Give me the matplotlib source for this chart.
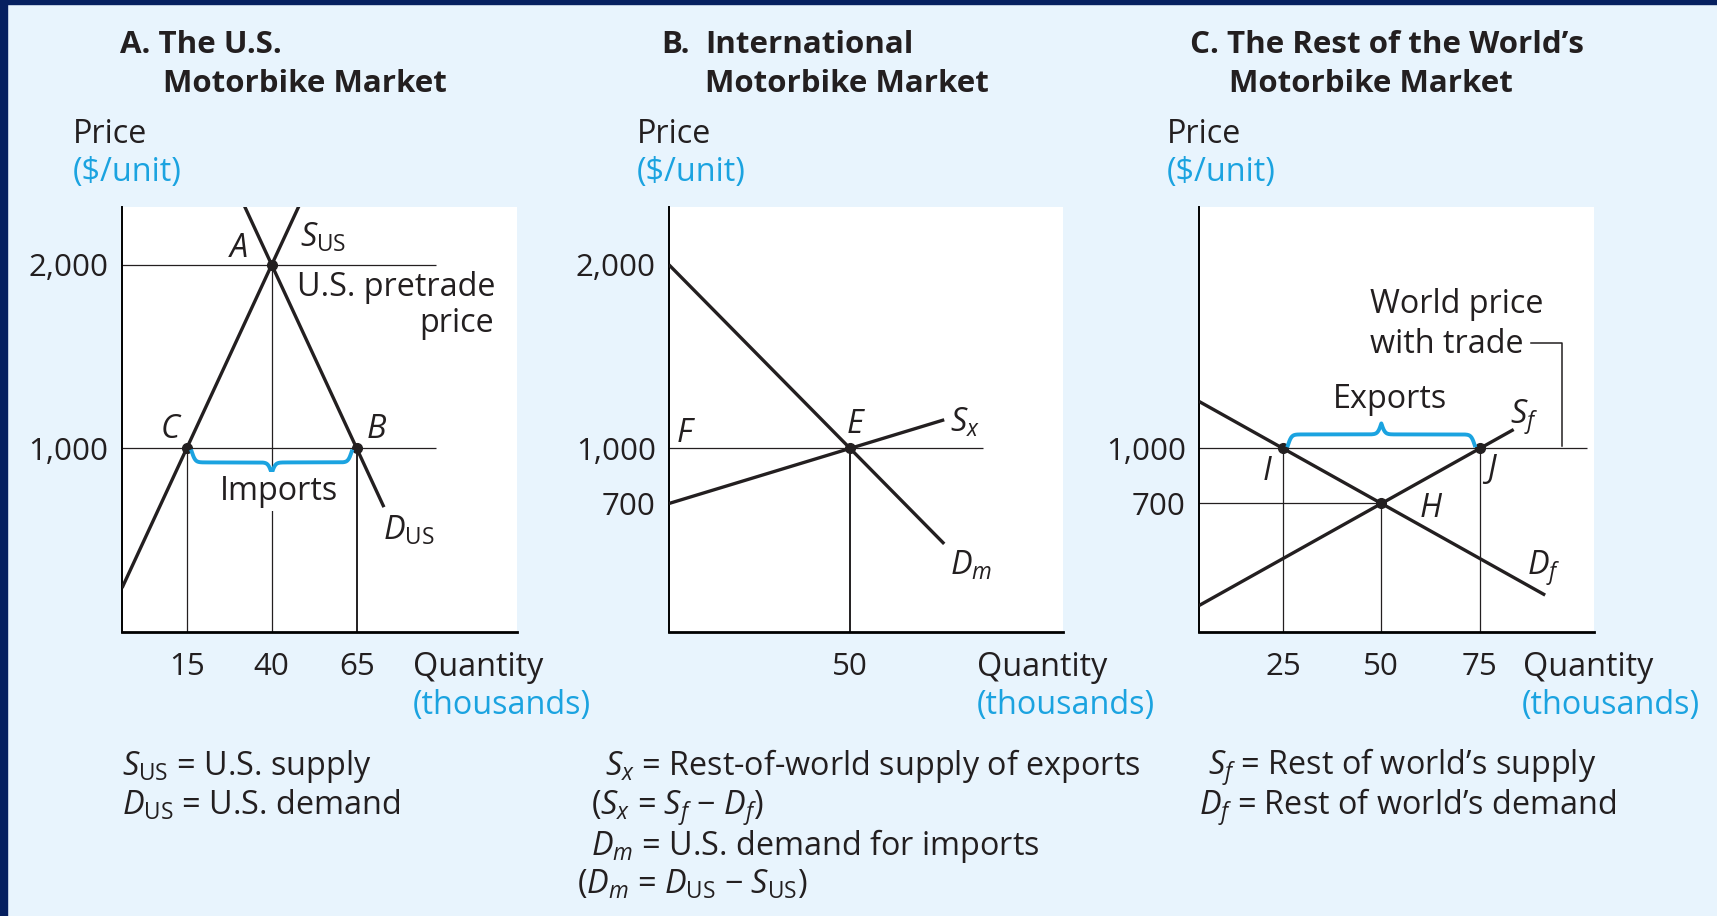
import numpy as np
import matplotlib.pyplot as plt
from matplotlib.patches import Rectangle
from matplotlib.transforms import IdentityTransform

W, H = 1717, 916
plt.rcParams['font.family'] = ['Open Sans', 'DejaVu Sans']
plt.rcParams['mathtext.fontset'] = 'custom'
plt.rcParams['mathtext.rm'] = 'Open Sans'
plt.rcParams['mathtext.it'] = 'Open Sans:italic'
plt.rcParams['mathtext.bf'] = 'Open Sans:bold'

# ---- data (quantity in thousands, price in $/unit) ----
world_price = 1000
# A: U.S. market
us_supply_q = [-4, 48]
us_supply_p = [240, 2320]
us_demand_q = [32, 73]
us_demand_p = [2320, 680]
us_pretrade_q, us_pretrade_p = 40, 2000
us_trade_q = [15, 65]            # C, B
# B: international market
imp_demand_q = [0, 76]
imp_demand_p = [2000, 480]
exp_supply_q = [0, 76]
exp_supply_p = [700, 1156]
intl_q, intl_p = 50, 1000
# C: rest of the world
row_supply_q = [3.7, 83.6]
row_supply_p = [144, 1103]
row_demand_q = [3.7, 91.6]
row_demand_p = [1256, 201]
row_pretrade_q, row_pretrade_p = 50, 700
row_trade_q = [25, 75]           # I, J

xticks_a = [15, 40, 65]
yticks_a = [1000, 2000]
xticks_b = [50]
yticks_b = [700, 1000, 2000]
xticks_c = [25, 50, 75]
yticks_c = [700, 1000]

INK = '#231f20'
BLUE = '#1ba3e0'
BG = '#e8f4fd'
NAVY = '#062060'
FS = 23.3
FS_TICK = 22.5
FS_TITLE = 22.5
LW = 2.4

fig = plt.figure(figsize=(W / 100, H / 100), dpi=100, facecolor=BG)
fig.patches.append(Rectangle((0, 0), 7, H, transform=IdentityTransform(), color=NAVY, zorder=-1))
fig.patches.append(Rectangle((0, H - 4), W, 4, transform=IdentityTransform(), color=NAVY, zorder=-1))


def txt(x, y, s, **kw):
    kw.setdefault('va', 'baseline')
    kw.setdefault('fontsize', FS)
    kw.setdefault('color', INK)
    return fig.text(x / W, 1 - y / H, s, **kw)


def title(x, y, s):
    return txt(x, y, s, fontweight='bold', fontsize=FS_TITLE)


def make_ax(left, right, xlim, xt, yt):
    top, bottom = 207, 632
    ax = fig.add_axes([left / W, (H - bottom) / H, (right - left) / W, (bottom - top) / H])
    ax.set_xlim(*xlim)
    ax.set_ylim(0, 2315)
    ax.set_facecolor('white')
    for s in ['top', 'right']:
        ax.spines[s].set_visible(False)
    ax.spines['left'].set_linewidth(1.4)
    ax.spines['bottom'].set_linewidth(2.0)
    ax.set_xticks(xt)
    ax.set_xticklabels([str(v) for v in xt], fontsize=FS_TICK, color=INK)
    ax.set_yticks(yt)
    ax.set_yticklabels([f'{v:,}' for v in yt], fontsize=FS_TICK, color=INK)
    ax.tick_params(axis='x', length=0, pad=14.5)
    ax.tick_params(axis='y', length=0, pad=9.5)
    return ax


def thin(ax, xs, ys, lw=0.9):
    ax.plot(xs, ys, color=INK, lw=lw, solid_capstyle='butt', zorder=2)


def curve(ax, xs, ys):
    ax.plot(xs, ys, color=INK, lw=LW, solid_capstyle='butt', zorder=3)


def dot(ax, x, y):
    ax.plot([x], [y], 'o', color=INK, ms=7, zorder=4)


def brace(ax, q0, q1, p, h):
    # curly brace between two data points, h = pixel height (+ up, - down)
    (x0, y0), (x1, _) = ax.transData.transform([(q0, p), (q1, p)])
    x0, x1 = x0 + 5, x1 - 5
    n = 401
    xs = np.linspace(x0, x1, n)
    xh = xs[:n // 2 + 1]
    b = 0.55
    yh = 1 / (1 + np.exp(-b * (xh - xh[0]))) + 1 / (1 + np.exp(-b * (xh - xh[-1])))
    ys = np.concatenate([yh, yh[-2::-1]])
    ys = y0 + np.sign(h) * 3 + (ys - 0.5) * h
    ax.plot(xs, ys, color=BLUE, lw=2.8, transform=IdentityTransform(), zorder=5)


# ---------------- Panel A ----------------
axA = make_ax(121.7, 516.6, (-4.1, 112), xticks_a, yticks_a)
thin(axA, [-4.1, 88.3], [us_pretrade_p] * 2)
thin(axA, [-4.1, 88.3], [world_price] * 2)
thin(axA, [us_trade_q[0]] * 2, [0, world_price])
thin(axA, [us_pretrade_q] * 2, [0, us_pretrade_p])
thin(axA, [us_trade_q[1]] * 2, [0, world_price], lw=1.4)
curve(axA, us_supply_q, us_supply_p)
curve(axA, us_demand_q, us_demand_p)
dot(axA, us_pretrade_q, us_pretrade_p)
for q in us_trade_q:
    dot(axA, q, world_price)
brace(axA, us_trade_q[0], us_trade_q[1], world_price, -22)

title(120, 53, 'A. The U.S.')
title(163, 92, 'Motorbike Market')
txt(73, 143, 'Price')
txt(73, 181, '($/unit)', color=BLUE)
txt(413, 676, 'Quantity')
txt(413, 714, '(thousands)', color=BLUE)
txt(230, 257, 'A', fontstyle='italic')
txt(300, 247, r'$S_{\mathrm{US}}$')
txt(297, 296, 'U.S. pretrade')
txt(494, 332, 'price', ha='right')
txt(161, 438, 'C', fontstyle='italic')
txt(367, 438, 'B', fontstyle='italic')
txt(279, 500, 'Imports', ha='center',
    bbox=dict(facecolor='white', edgecolor='none', pad=2))
txt(383, 540, r'$D_{\mathrm{US}}$')
txt(122, 775, r'$S_{\mathrm{US}}$ = U.S. supply')
txt(122, 815, r'$D_{\mathrm{US}}$ = U.S. demand')

# ---------------- Panel B ----------------
axB = make_ax(669, 1063, (0, 108.8), xticks_b, yticks_b)
thin(axB, [0, 86.7], [world_price] * 2)
thin(axB, [intl_q] * 2, [0, intl_p], lw=1.4)
curve(axB, imp_demand_q, imp_demand_p)
curve(axB, exp_supply_q, exp_supply_p)
dot(axB, intl_q, intl_p)

title(661, 53, 'B.')
title(705, 53, 'International')
title(705, 92, 'Motorbike Market')
txt(637, 143, 'Price')
txt(637, 181, '($/unit)', color=BLUE)
txt(977, 676, 'Quantity')
txt(977, 714, '(thousands)', color=BLUE)
txt(677, 442, 'F', fontstyle='italic')
txt(847, 433, 'E', fontstyle='italic')
txt(950, 432, r'$S_x$')
txt(950, 575, r'$D_m$')
txt(605, 775, r'$S_x$ = Rest-of-world supply of exports')
txt(591, 815, r'($S_x$ = $S_f$ − $D_f$)')
txt(591, 855, r'$D_m$ = U.S. demand for imports')
txt(577, 894, r'($D_m$ = $D_{\mathrm{US}}$ − $S_{\mathrm{US}}$)')

# ---------------- Panel C ----------------
axC = make_ax(1199, 1594, (3.7, 104), xticks_c, yticks_c)
thin(axC, [3.7, 102.2], [world_price] * 2)
thin(axC, [3.7, row_pretrade_q], [row_pretrade_p] * 2)
thin(axC, [row_trade_q[0]] * 2, [0, world_price])
thin(axC, [row_pretrade_q] * 2, [0, row_pretrade_p])
thin(axC, [row_trade_q[1]] * 2, [0, world_price])
curve(axC, row_supply_q, row_supply_p)
curve(axC, row_demand_q, row_demand_p)
dot(axC, row_pretrade_q, row_pretrade_p)
for q in row_trade_q:
    dot(axC, q, world_price)
brace(axC, row_trade_q[0], row_trade_q[1], world_price, 22)
axC.plot([1531, 1562, 1562], [H - 343, H - 343, H - 446], color=INK, lw=1.1,
         transform=IdentityTransform(), zorder=5)

title(1190, 53, 'C. The Rest of the World’s')
title(1229, 92, 'Motorbike Market')
txt(1167, 143, 'Price')
txt(1167, 181, '($/unit)', color=BLUE)
txt(1523, 676, 'Quantity')
txt(1522, 714, '(thousands)', color=BLUE)
txt(1370, 313, 'World price')
txt(1370, 353, 'with trade')
txt(1390, 408, 'Exports', ha='center')
txt(1510, 424, r'$S_f$')
txt(1263, 480, 'I', fontstyle='italic')
txt(1487, 478, 'J', fontstyle='italic')
txt(1420, 517, 'H', fontstyle='italic')
txt(1527, 575, r'$D_f$')
txt(1208, 775, r'$S_f$ = Rest of world’s supply')
txt(1199, 815, r'$D_f$ = Rest of world’s demand')

fig.savefig('out.png', dpi=100, facecolor=BG)
